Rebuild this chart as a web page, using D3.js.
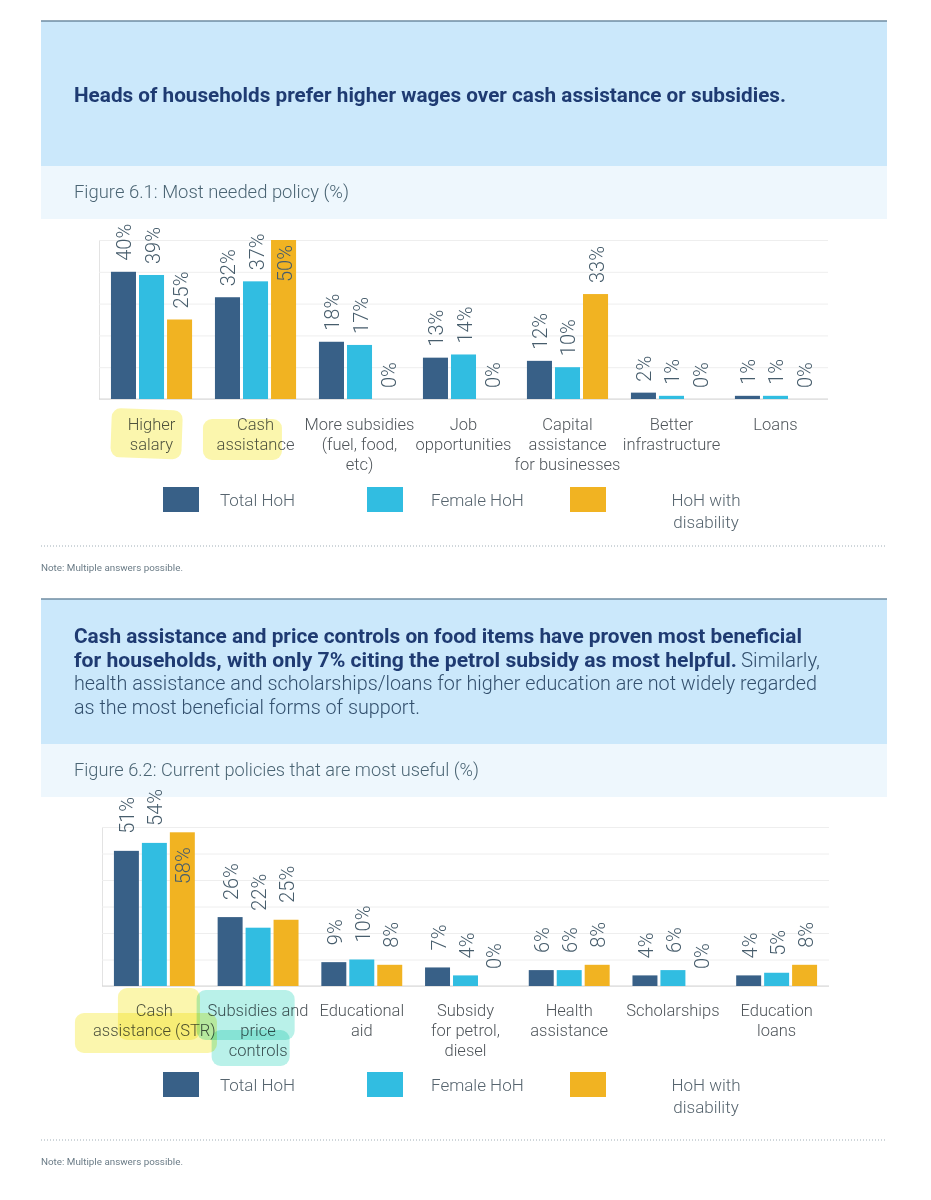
<!DOCTYPE html>
<html>
<head>
<meta charset="utf-8">
<script src="https://cdn.jsdelivr.net/npm/d3@7"></script>
<style>
  body { margin: 0; background: #fff; }
  text { font-family: Roboto, "Helvetica Neue", Arial, sans-serif; }
</style>
</head>
<body>
<svg id="page" width="931" height="1200"></svg>
<script>
// series names (legend)
var seriesNames = ["Total HoH", "Female HoH", "HoH with\ndisability"];
var seriesColors = ["#386087", "#31bde1", "#f1b322"];

// figure 6.1 - most needed policy (%)
var categories1 = ["Higher\nsalary", "Cash\nassistance", "More subsidies\n(fuel, food,\netc)", "Job\nopportunities",
                   "Capital\nassistance\nfor businesses", "Better\ninfrastructure", "Loans"];
var total1  = [40, 32, 18, 13, 12, 2, 1];
var female1 = [39, 37, 17, 14, 10, 1, 1];
var disab1  = [25, 50, 0, 0, 33, 0, 0];

// figure 6.2 - current policies that are most useful (%)
var categories2 = ["Cash\nassistance (STR)", "Subsidies and\nprice\ncontrols", "Educational\naid", "Subsidy\nfor petrol,\ndiesel",
                   "Health\nassistance", "Scholarships", "Education\nloans"];
var total2  = [51, 26, 9, 7, 6, 4, 4];
var female2 = [54, 22, 10, 4, 6, 6, 5];
var disab2  = [58, 25, 8, 0, 8, 0, 8];

var svg = d3.select("#page");

// header box with bold title text and figure caption
function drawHeader(top, lines, caption, captionLen) {
    svg.append("rect").attr("x", 41).attr("y", top).attr("width", 846).attr("height", 145).attr("fill", "#cbe8fb");
    svg.append("rect").attr("x", 41).attr("y", top + 145).attr("width", 846).attr("height", 53).attr("fill", "#eef7fd");
    svg.append("line").attr("x1", 41).attr("x2", 887).attr("y1", top).attr("y2", top)
        .attr("stroke", "#6f8ca2").attr("stroke-width", 1.5);

    lines.forEach(function(l) {
        svg.append("text")
            .attr("x", l.x).attr("y", l.y)
            .attr("dominant-baseline", "central")
            .attr("font-size", 20)
            .attr("font-weight", l.bold ? 700 : 300)
            .attr("fill", l.bold ? "#1f3b72" : "#33506e")
            .attr("textLength", l.len).attr("lengthAdjust", "spacingAndGlyphs")
            .text(l.t);
    });

    svg.append("text")
        .attr("x", 74).attr("y", top + 171)
        .attr("dominant-baseline", "central")
        .attr("font-size", 17.5).attr("font-weight", 300)
        .attr("fill", "#4b6574")
        .attr("textLength", captionLen).attr("lengthAdjust", "spacingAndGlyphs")
        .text(caption);
}

function drawChart(cfg) {
    var n = cfg.categories.length;
    var series = cfg.series;

    var x0 = d3.scaleBand().domain(d3.range(n)).range([cfg.left, cfg.right])
        .paddingInner(0.22).paddingOuter(0.115);
    var x1 = d3.scaleBand().domain(d3.range(series.length)).range([0, x0.bandwidth()])
        .paddingInner(0.107);
    var y = d3.scaleLinear().domain([0, cfg.max]).range([cfg.base, cfg.top]);

    // gridlines
    var grid = svg.append("g")
        .attr("transform", "translate(" + cfg.left + ",0)")
        .call(d3.axisLeft(y).ticks(cfg.max / 10).tickSize(-(cfg.right - cfg.left)).tickSizeOuter(0).tickFormat(""));
    grid.select(".domain").attr("stroke", "#e3e3e3");
    grid.selectAll(".tick line").attr("stroke", "#eeeeee");

    // baseline
    svg.append("line").attr("x1", cfg.left).attr("x2", cfg.right)
        .attr("y1", y(0)).attr("y2", y(0)).attr("stroke", "#d5d5d5");

    // bars + value labels
    series.forEach(function(vals, s) {
        var g = svg.append("g");
        g.selectAll("rect").data(vals).enter().append("rect")
            .attr("x", function(d, i) { return x0(i) + x1(s); })
            .attr("y", function(d) { return y(d); })
            .attr("width", x1.bandwidth())
            .attr("height", function(d) { return y(0) - y(d); })
            .attr("fill", seriesColors[s]);

        g.selectAll("text").data(vals).enter().append("text")
            .attr("transform", function(d, i) {
                var cx = x0(i) + x1(s) + x1.bandwidth() / 2 + 1;
                var inside = d >= cfg.max * 0.95;
                var yy = inside ? y(d) + cfg.inGap : y(d) - cfg.gap;
                return "translate(" + cx + "," + yy + ") rotate(-90)";
            })
            .attr("text-anchor", function(d) { return d >= cfg.max * 0.95 ? "end" : "start"; })
            .attr("dominant-baseline", "central")
            .attr("font-size", 20).attr("font-weight", 300)
            .attr("fill", "#475d6c")
            .text(function(d) { return d + "%"; });
    });

    // category labels
    var labels = svg.append("g");
    cfg.categories.forEach(function(c, i) {
        var t = labels.append("text")
            .attr("x", x0(i) + x0.bandwidth() / 2)
            .attr("y", cfg.labelY)
            .attr("text-anchor", "middle")
            .attr("font-size", 16.5).attr("font-weight", 300)
            .attr("fill", "#4f555a");
        c.split("\n").forEach(function(part, k) {
            t.append("tspan").attr("x", x0(i) + x0.bandwidth() / 2).attr("dy", k === 0 ? 0 : 20).text(part);
        });
    });

    // highlighter marks over some labels
    cfg.marks.forEach(function(m) {
        svg.append("rect")
            .attr("x", x0(m.cat) + m.dx).attr("y", cfg.labelY + m.dy)
            .attr("width", m.w).attr("height", m.h)
            .attr("rx", 9)
            .attr("transform", m.rot ? "rotate(" + m.rot + "," + (x0(m.cat) + m.dx) + "," + (cfg.labelY + m.dy) + ")" : null)
            .attr("fill", m.color).attr("opacity", 0.55)
            .style("mix-blend-mode", "multiply");
    });

    // legend
    var lx = [163, 367, 570];
    var tx = [220, 431, 706];
    seriesNames.forEach(function(name, s) {
        svg.append("rect").attr("x", lx[s]).attr("y", cfg.legendY).attr("width", 36).attr("height", 25)
            .attr("fill", seriesColors[s]);
        var t = svg.append("text")
            .attr("x", tx[s]).attr("y", cfg.legendY + 13)
            .attr("dominant-baseline", "central")
            .attr("text-anchor", s === 2 ? "middle" : "start")
            .attr("font-size", 17).attr("font-weight", 300)
            .attr("fill", "#56646e");
        name.split("\n").forEach(function(part, k) {
            t.append("tspan").attr("x", tx[s]).attr("dy", k === 0 ? 0 : 22).text(part);
        });
    });

    // dotted rule + note
    svg.append("line").attr("x1", 41).attr("x2", 887).attr("y1", cfg.noteY - 21).attr("y2", cfg.noteY - 21)
        .attr("stroke", "#9fadb6").attr("stroke-dasharray", "1,2");
    svg.append("text").attr("x", 41).attr("y", cfg.noteY)
        .attr("dominant-baseline", "central")
        .attr("font-size", 9.5).attr("fill", "#6a7b86")
        .attr("textLength", 142).attr("lengthAdjust", "spacingAndGlyphs")
        .text("Note: Multiple answers possible.");
}

// ---- figure 6.1
drawHeader(21, [
    { t: "Heads of households prefer higher wages over cash assistance or subsidies.", x: 74, y: 95, len: 712, bold: true }
], "Figure 6.1: Most needed policy (%)", 275);

drawChart({
    categories: categories1,
    series: [total1, female1, disab1],
    max: 50, top: 240, base: 399, left: 99, right: 828,
    gap: 11, inGap: 5,
    labelY: 430,
    marks: [
        { cat: 0, dx: 1, dy: -22, w: 71, h: 49, color: "#f8ef6a", rot: 2 },
        { cat: 1, dx: -12, dy: -11, w: 79, h: 41, color: "#f8ef6a" }
    ],
    legendY: 487,
    noteY: 567
});

// ---- figure 6.2
drawHeader(599, [
    { t: "Cash assistance and price controls on food items have proven most beneficial", x: 74, y: 636, len: 728, bold: true },
    { t: "for households, with only 7% citing the petrol subsidy as most helpful.", x: 74, y: 659.5, len: 663, bold: true },
    { t: "Similarly,", x: 741, y: 659.5, len: 79, bold: false },
    { t: "health assistance and scholarships/loans for higher education are not widely regarded", x: 74, y: 683, len: 743, bold: false },
    { t: "as the most beneficial forms of support.", x: 74, y: 706.5, len: 346, bold: false }
], "Figure 6.2: Current policies that are most useful (%)", 405);

drawChart({
    categories: categories2,
    series: [total2, female2, disab2],
    max: 60, top: 827, base: 986, left: 102, right: 829,
    gap: 17, inGap: 15,
    labelY: 1016,
    marks: [
        { cat: 0, dx: 4, dy: -28, w: 82, h: 52, color: "#f8ef6a" },
        { cat: 0, dx: -39, dy: -3, w: 142, h: 40, color: "#f8ef6a" },
        { cat: 1, dx: -21, dy: -26, w: 98, h: 50, color: "#7fe6d6" },
        { cat: 1, dx: -6, dy: 14, w: 78, h: 36, color: "#7fe6d6" }
    ],
    legendY: 1072,
    noteY: 1161
});
</script>
</body>
</html>
